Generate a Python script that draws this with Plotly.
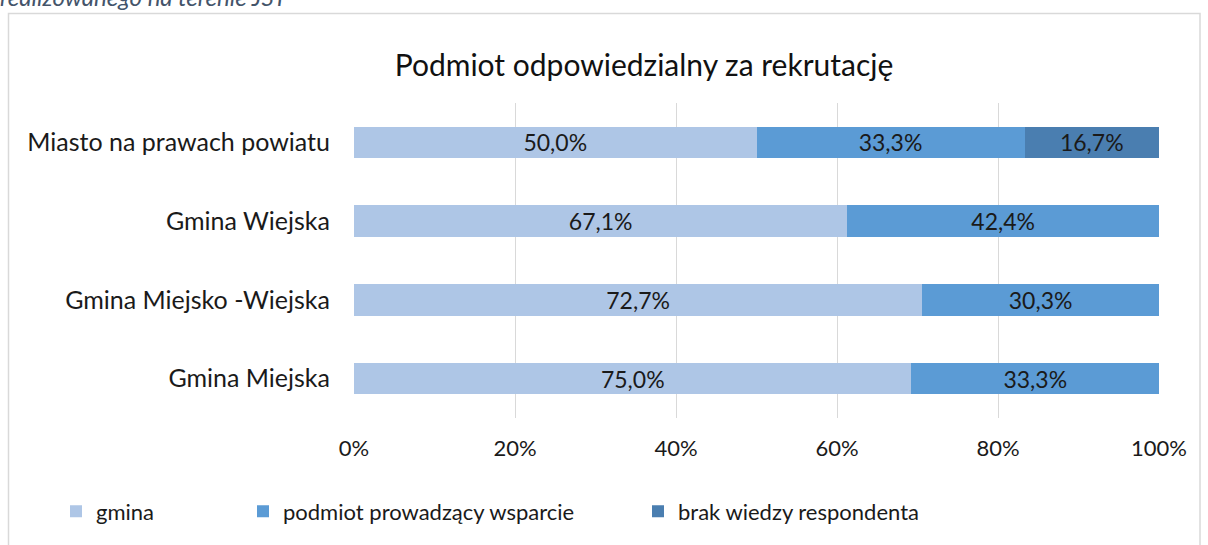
import plotly.graph_objects as go

categories = ["Gmina Miejska", "Gmina Miejsko -Wiejska", "Gmina Wiejska", "Miasto na prawach powiatu"]
gmina = [75.0, 72.7, 67.1, 50.0]
podmiot = [33.3, 30.3, 42.4, 33.3]
brak = [None, None, None, 16.7]
series_names = ["gmina", "podmiot prowadzący wsparcie", "brak wiedzy respondenta"]
colors = ["#AEC6E6", "#5B9BD5", "#4A7EB0"]
tick_vals = [0, 20, 40, 60, 80, 100]
tick_text = ["0%", "20%", "40%", "60%", "80%", "100%"]

FONT = "Lato, 'Open Sans', sans-serif"

def fmt(v):
    return "" if v is None else f"{v:.1f}%".replace(".", ",")

W, H = 1208, 545
L, R, T, B = 354, 1159, 103, 423
pw, ph = R - L, B - T

def px(x):
    return (x - L) / pw

def py(y):
    return (B - y) / ph

legend_ids = ["legend", "legend2", "legend3"]
legend_x = [56, 243, 638]

fig = go.Figure()
for name, vals, col, lid in zip(series_names, [gmina, podmiot, brak], colors, legend_ids):
    fig.add_trace(go.Bar(
        y=categories, x=vals, name=name, orientation="h",
        marker=dict(color=col, line=dict(width=0)),
        text=[fmt(v) for v in vals], textposition="inside",
        insidetextanchor="middle", constraintext="none",
        textfont=dict(family=FONT, size=23, color="#1a1a1a"),
        hoverinfo="skip", legend=lid,
    ))

legend_common = dict(orientation="h", xanchor="left", y=py(518), yanchor="middle",
                     font=dict(size=22, family=FONT, color="#1a1a1a"),
                     itemwidth=30, bgcolor="rgba(0,0,0,0)", borderwidth=0)

layout_legends = {}
for lid, lx in zip(legend_ids, legend_x):
    layout_legends[lid] = dict(x=px(lx), **legend_common)

fig.update_layout(
    width=W, height=H,
    barmode="stack", barnorm="percent", bargap=0.6,
    margin=dict(l=L, r=W - R, t=T, b=H - B),
    paper_bgcolor="white", plot_bgcolor="white",
    font=dict(family=FONT, color="#1a1a1a"),
    showlegend=True,
    title=dict(text="Podmiot odpowiedzialny za rekrutację", x=px(644), xref="paper",
               xanchor="center", y=1 - 65 / H, yanchor="middle",
               font=dict(size=30, color="#111111", family=FONT)),
    xaxis=dict(range=[0, 100], tickvals=tick_vals, ticktext=tick_text,
               showgrid=True, gridcolor="#D9D9D9", gridwidth=1,
               zeroline=False, showline=False, ticks="",
               tickfont=dict(size=22, family=FONT, color="#1a1a1a"),
               ticklabelstandoff=15),
    yaxis=dict(showgrid=False, showline=False, ticks="", zeroline=False,
               tickfont=dict(size=25, family=FONT, color="#1a1a1a"),
               ticklabelstandoff=23),
    **layout_legends,
)

fig.add_shape(type="rect", xref="paper", yref="paper",
              x0=px(8.5), x1=px(1200), y0=py(560), y1=py(12),
              line=dict(color="#D9D9D9", width=1.5), fillcolor="rgba(0,0,0,0)",
              layer="below")

fig.add_annotation(text="realizowanego na terenie JST", xref="paper", yref="paper",
                   x=px(-2), y=py(-5), xanchor="left", yanchor="middle",
                   showarrow=False,
                   font=dict(size=24, family=FONT, color="#44546A", style="italic"))

fig.write_html("out.html", config={"displayModeBar": False},
               post_script="document.body.style.margin='0';")
